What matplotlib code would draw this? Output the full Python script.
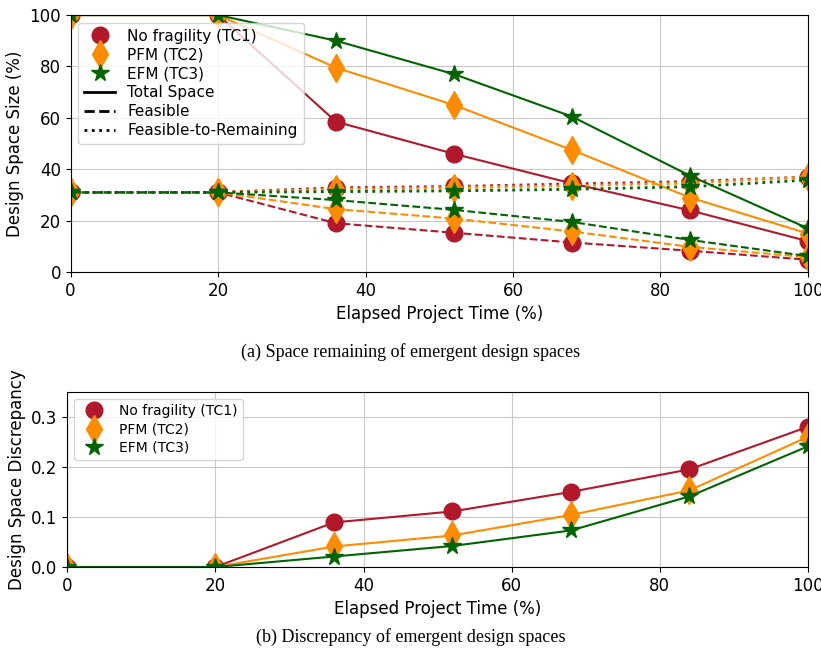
import matplotlib
matplotlib.use("Agg")
import matplotlib.pyplot as plt
from matplotlib.lines import Line2D

time_pct = [0, 20, 36, 52, 68, 84, 100]

total_tc1 = [100, 100, 58.5, 46, 34.5, 24, 12]
total_tc2 = [100, 100, 79.5, 65, 47.5, 29, 15]
total_tc3 = [100, 100, 90, 77, 60.5, 37.5, 17]

feas_tc1 = [31, 31, 19, 15.3, 11.5, 8.3, 4.8]
feas_tc2 = [31, 31, 24.5, 20.8, 15.8, 9.8, 5.8]
feas_tc3 = [31, 31, 28, 24.2, 19.5, 12.5, 6.2]

ftr_tc1 = [31, 31, 32.8, 33.3, 34.3, 35.2, 37]
ftr_tc2 = [31, 31, 32.2, 32.8, 33.6, 34.6, 37]
ftr_tc3 = [31, 31, 31.3, 31.6, 32.2, 33.2, 35.8]

disc_tc1 = [0, 0, 0.089, 0.111, 0.150, 0.195, 0.28]
disc_tc2 = [0, 0, 0.041, 0.063, 0.104, 0.153, 0.26]
disc_tc3 = [0, 0, 0.021, 0.042, 0.073, 0.141, 0.241]

names = ["No fragility (TC1)", "PFM (TC2)", "EFM (TC3)"]
colors = ["#b2182b", "darkorange", "darkgreen"]
markers = ["o", "d", "*"]
msizes = [12, 14, 13]

fig = plt.figure(figsize=(8.21, 6.54), dpi=100)
ax1 = fig.add_axes([0.086, 0.584, 0.898, 0.393])
ax2 = fig.add_axes([0.082, 0.133, 0.902, 0.268])

totals = [total_tc1, total_tc2, total_tc3]
feas = [feas_tc1, feas_tc2, feas_tc3]
ftrs = [ftr_tc1, ftr_tc2, ftr_tc3]
for i in range(3):
    ax1.plot(time_pct, totals[i], color=colors[i], marker=markers[i], ms=msizes[i], ls="-", lw=1.5)
    ax1.plot(time_pct, feas[i], color=colors[i], marker=markers[i], ms=msizes[i], ls="--", lw=1.5)
    ax1.plot(time_pct, ftrs[i], color=colors[i], marker=markers[i], ms=msizes[i], ls=":", lw=2)

tc_handles = [Line2D([], [], color=colors[i], marker=markers[i], ms=msizes[i], ls="") for i in range(3)]
style_handles = [Line2D([], [], color="k", ls="-", lw=2),
                 Line2D([], [], color="k", ls="--", lw=2),
                 Line2D([], [], color="k", ls=":", lw=2)]
labels = names + ["Total Space", "Feasible", "Feasible-to-Remaining"]
ax1.legend(tc_handles + style_handles, labels, loc="upper left", fontsize=11, framealpha=0.8,
           handlelength=2, labelspacing=0.25)
ax1.set_xlim(0, 100)
ax1.set_ylim(0, 100)
ax1.grid(True, color="#c8c8c8")
ax1.set_xlabel("Elapsed Project Time (%)", fontsize=12)
ax1.set_ylabel("Design Space Size (%)", fontsize=12)
ax1.tick_params(labelsize=12)

discs = [disc_tc1, disc_tc2, disc_tc3]
for i in range(3):
    ax2.plot(time_pct, discs[i], color=colors[i], marker=markers[i], ms=msizes[i], ls="-", lw=1.5)
ax2.legend(tc_handles, names, loc="upper left", fontsize=10, framealpha=0.8, labelspacing=0.3)
ax2.set_xlim(0, 100)
ax2.set_ylim(0, 0.35)
ax2.set_yticks([0, 0.1, 0.2, 0.3])
ax2.grid(True, color="#c8c8c8")
ax2.set_xlabel("Elapsed Project Time (%)", fontsize=12)
ax2.set_ylabel("Design Space Discrepancy", fontsize=12)
ax2.tick_params(labelsize=12)

fig.text(0.5, 0.462, "(a) Space remaining of emergent design spaces", ha="center", va="center",
         family="Liberation Serif", fontsize=13)
fig.text(0.5, 0.026, "(b) Discrepancy of emergent design spaces", ha="center", va="center",
         family="Liberation Serif", fontsize=13)

fig.savefig("out.png", dpi=100)
